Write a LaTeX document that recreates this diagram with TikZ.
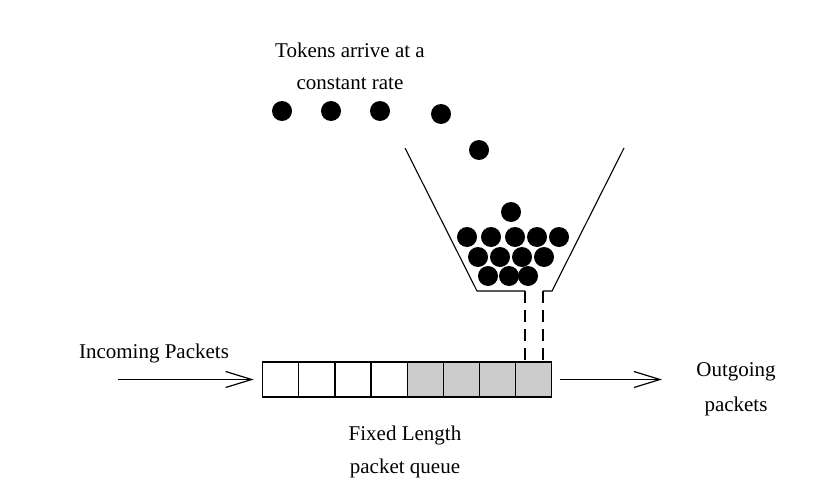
\documentclass[tikz,border=0pt]{standalone}
\usepackage{fontspec}
\setmainfont{Liberation Serif}
\usetikzlibrary{arrows.meta}
\definecolor{cellgray}{HTML}{CCCCCC}
\begin{document}
\begin{tikzpicture}[x=1pt,y=-1pt,
  lbl/.style={font=\fontsize{21}{32}\selectfont, align=center, inner sep=0pt},
  token/.style={circle, fill=black, minimum size=20pt, inner sep=0pt},
  cell/.style={draw=black, line width=1.2pt, minimum width=36.1pt, minimum height=35pt, inner sep=0pt, outer sep=0pt},
  flow/.style={line width=1.2pt, -{Straight Barb[length=26pt,width=16pt,line width=1.2pt]}},
  funnelline/.style={line width=1.1pt},
  spout/.style={line width=1.2pt, dash pattern=on 12pt off 7pt}]
\useasboundingbox (0,0) rectangle (818,492);
% labels
\node[lbl] (tok) at (350,66) {Tokens arrive at a\\constant rate};
\node[lbl] (inc) at (154,353) {Incoming Packets};
\node[lbl, font=\fontsize{21}{35}\selectfont] (out) at (736,389) {Outgoing\\packets};
\node[lbl, font=\fontsize{21}{33}\selectfont] (fix) at (405,452) {Fixed Length\\packet queue};
% tokens
\foreach \x/\y [count=\i] in {282/111, 331/111, 380/111, 441/114, 479/150, 511/212,
  467/237, 491/237, 515/237, 537/237, 559/237,
  478/257, 500/257, 522/257, 544/257,
  488/276, 509/276, 528/276}
  \node[token] (t\i) at (\x,\y) {};
% funnel
\coordinate (fl) at (405,148);
\coordinate (fbl) at (477,291);
\coordinate (sl) at (525,291);
\coordinate (sr) at (543,291);
\coordinate (fbr) at (552,291);
\coordinate (fr) at (624,148);
\draw[funnelline] (fl) -- (fbl) -- (sl);
\draw[funnelline] (fr) -- (fbr) -- (sr);
% queue
\foreach \i in {1,...,8}{
  \ifnum\i>4
    \node[cell, fill=cellgray] (c\i) at ({262.7+36.1*(\i-0.5)},379.5) {};
  \else
    \node[cell, fill=white] (c\i) at ({262.7+36.1*(\i-0.5)},379.5) {};
  \fi
}
% spout dashed
\draw[spout] (sl) -- (sl |- c8.north);
\draw[spout] (sr) -- (sr |- c8.north);
% arrows
\coordinate (inS) at (118,379.5);
\coordinate (outE) at (662,379.5);
\draw[flow] (inS) -- ([xshift=-9pt]c1.west);
\draw[flow] ([xshift=8pt]c8.east) -- (outE);
\end{tikzpicture}
\end{document}
